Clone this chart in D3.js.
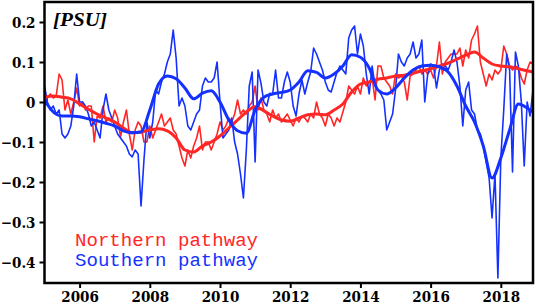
<!DOCTYPE html>
<html>
<head>
<meta charset="utf-8">
<script src="https://cdn.jsdelivr.net/npm/d3@7"></script>
<style>
  body { margin: 0; background: #fff; }
</style>
</head>
<body>
<div id="chart"></div>
<script>
  // monthly anomalies, Jan 2005 .. Dec 2018
  const startYear = 2005;
  const northRaw = [
    -0.01, 0.01, 0.02, 0.01, 0.015, 0.07, 0.055, -0.02, 0.005, -0.03, 0.0, 0.035,
    -0.01, 0.0, -0.02, -0.01, -0.01, -0.1, -0.035, -0.04, -0.01, -0.05, -0.04, -0.05,
    -0.02, -0.04, -0.087, -0.05, -0.02, -0.08, -0.12, -0.07, -0.05, -0.06, -0.1, -0.1,
    -0.06, -0.09, -0.07, -0.05, -0.03, -0.06, -0.05, -0.04, -0.07, -0.08, -0.11, -0.14,
    -0.16, -0.12, -0.14, -0.11, -0.09, -0.06, -0.12, -0.1, -0.1, -0.12, -0.1, -0.08,
    -0.05, -0.07, -0.06, -0.04, -0.05, -0.03, 0.005, -0.03, -0.02, -0.03, -0.01, 0.0,
    0.04, -0.02, 0.01, -0.02, -0.03, -0.05, -0.02, -0.04, -0.03, -0.05, -0.04, -0.03,
    -0.045, -0.06, -0.04, -0.05, -0.035, -0.04, -0.05, -0.03, -0.04, 0.0, -0.03, -0.04,
    -0.06, -0.03, -0.04, -0.06, -0.04, -0.05, -0.025, 0.0, 0.04, 0.03, 0.02, 0.04,
    0.02, 0.06, 0.04, 0.05, 0.06, 0.005, 0.09, 0.09, 0.06, 0.05, 0.04, 0.02,
    0.07, 0.06, 0.065, 0.05, 0.005, 0.065, 0.07, 0.08, 0.09, 0.07, 0.08, 0.07,
    0.08, 0.06, 0.09, 0.15, 0.07, 0.1, 0.11, 0.12, 0.12, 0.12, 0.135, 0.09,
    0.13, 0.11, 0.155, 0.17, 0.19, 0.1, 0.07, 0.04, 0.07, 0.055, 0.08, 0.07,
    0.08, 0.14, 0.12, 0.09, 0.08, 0.09, 0.085, 0.06, 0.045, 0.08, 0.1, 0.095
  ];
  const southRaw = [
    0.04, 0.0, -0.02, -0.01, -0.03, -0.02, -0.08, -0.09, -0.08, -0.06, -0.01, 0.07,
    0.0, 0.0, -0.01, -0.03, -0.06, -0.05, -0.07, -0.09, -0.02, 0.02, -0.02, -0.04,
    -0.06, -0.08, -0.09, -0.1, -0.11, -0.13, -0.137, -0.12, -0.13, -0.26, -0.145, -0.05,
    -0.09, -0.05, 0.03, 0.02, 0.05, 0.07, 0.1, 0.12, 0.18, 0.11, -0.01, 0.01,
    -0.01, -0.06, -0.07, -0.05, -0.03, -0.02, 0.04, 0.06, 0.05, 0.05, 0.06, 0.1,
    0.0, -0.09, -0.08, -0.07, -0.04, -0.1, -0.13, -0.18, -0.24, -0.12, 0.04, 0.075,
    -0.15, 0.08, 0.047, 0.0, -0.01, 0.022, 0.02, 0.08, 0.01, 0.01, 0.05, 0.075,
    0.05, -0.01, -0.035, 0.02, 0.055, 0.02, 0.05, 0.075, 0.135, 0.12, 0.1, 0.08,
    0.05, 0.03, 0.025, 0.05, 0.075, 0.09, 0.08, 0.07, 0.16, 0.18, 0.19, 0.12,
    0.17, 0.14, 0.07, 0.02, 0.09, 0.04, 0.03, 0.02, 0.005, -0.07, -0.05, -0.03,
    0.03, 0.12, 0.1, 0.09, 0.11, 0.12, 0.15, 0.11, 0.12, 0.155, 0.0, 0.07,
    0.095, 0.09, 0.035, 0.08, 0.095, 0.09, 0.08, 0.1, 0.13, 0.1, 0.04, -0.06,
    0.03, 0.05, -0.02, -0.03, -0.07, -0.08, -0.11, -0.15, -0.19, -0.29, -0.18, -0.44,
    -0.14, -0.02, 0.12, 0.08, -0.175, 0.125, 0.09, 0.0, -0.16, 0.0, -0.035, 0.03
  ];

  // running means, read at quarter-year steps
  const smoothYears = [
    2005.0, 2005.25, 2005.5, 2005.75, 2006.0, 2006.25, 2006.5, 2006.75,
    2007.0, 2007.25, 2007.5, 2007.75, 2008.0, 2008.25, 2008.5, 2008.75,
    2009.0, 2009.25, 2009.5, 2009.75, 2010.0, 2010.25, 2010.5, 2010.75,
    2011.0, 2011.25, 2011.5, 2011.75, 2012.0, 2012.25, 2012.5, 2012.75,
    2013.0, 2013.25, 2013.5, 2013.75, 2014.0, 2014.25, 2014.5, 2014.75,
    2015.0, 2015.25, 2015.5, 2015.75, 2016.0, 2016.25, 2016.5, 2016.75,
    2017.0, 2017.25, 2017.5, 2017.75, 2018.0, 2018.25, 2018.5, 2018.75, 2018.917
  ];
  const northSmooth = [
    0.012, 0.015, 0.012, 0.008, -0.005, -0.018, -0.03, -0.04,
    -0.05, -0.065, -0.077, -0.075, -0.07, -0.067, -0.072, -0.09,
    -0.12, -0.125, -0.11, -0.1, -0.085, -0.065, -0.045, -0.025,
    -0.012, -0.022, -0.035, -0.045, -0.048, -0.04, -0.032, -0.03,
    -0.032, -0.02, -0.005, 0.025, 0.045, 0.05, 0.057, 0.06,
    0.065, 0.067, 0.072, 0.078, 0.083, 0.09, 0.097, 0.107,
    0.117, 0.125, 0.11, 0.095, 0.09, 0.088, 0.083, 0.078, 0.075
  ];
  const southSmooth = [
    0.005, -0.025, -0.035, -0.035, -0.037, -0.042, -0.047, -0.053,
    -0.06, -0.072, -0.077, -0.075, -0.02, 0.045, 0.065, 0.058,
    0.035, 0.008, 0.022, 0.028, 0.0, -0.045, -0.072, -0.078,
    -0.02, 0.012, 0.02, 0.024, 0.03, 0.05, 0.078, 0.074,
    0.06, 0.07, 0.09, 0.118, 0.112, 0.085, 0.03, 0.02,
    0.035, 0.06, 0.08, 0.09, 0.092, 0.088, 0.075, 0.04,
    -0.01, -0.05, -0.11, -0.19, -0.14, -0.07, -0.005, -0.015, -0.025
  ];

  const yTicks = [-0.4, -0.3, -0.2, -0.1, 0, 0.1, 0.2];
  const xTicks = [2006, 2008, 2010, 2012, 2014, 2016, 2018];
  const legendLabels = ["Northern pathway", "Southern pathway"];

  const red = "#ff2626", blue = "#1531ff";
  const width = 536, height = 305;
  const box = { left: 44.5, right: 533, top: 2, bottom: 283 };

  const svg = d3.select("#chart").append("svg")
    .attr("width", width).attr("height", height);

  const x = d3.scaleLinear()
    .domain([startYear, startYear + (northRaw.length - 1) / 12])
    .range([box.left, box.right]);
  const y = d3.scaleLinear().domain([-0.4525, 0.25]).range([box.bottom, box.top]);

  svg.append("clipPath").attr("id", "clip")
    .append("rect").attr("x", box.left).attr("y", box.top)
    .attr("width", box.right - box.left).attr("height", box.bottom - box.top);

  const plot = svg.append("g").attr("clip-path", "url(#clip)");

  const rawLine = d3.line()
    .x((d, i) => x(startYear + i / 12))
    .y(d => y(d));
  const smoothLine = d3.line()
    .x((d, i) => x(smoothYears[i]))
    .y(d => y(d))
    .curve(d3.curveMonotoneX);

  const series = [
    { raw: northRaw, smooth: northSmooth, color: red },
    { raw: southRaw, smooth: southSmooth, color: blue }
  ];

  // thin monthly lines first, then the thick running means
  series.forEach(s => {
    plot.append("path").datum(s.raw)
      .attr("fill", "none").attr("stroke", s.color)
      .attr("stroke-width", 1.6).attr("stroke-linejoin", "round")
      .attr("d", rawLine);
  });
  series.forEach(s => {
    plot.append("path").datum(s.smooth)
      .attr("fill", "none").attr("stroke", s.color)
      .attr("stroke-width", 3).attr("stroke-linejoin", "round")
      .attr("d", smoothLine);
  });

  const tickFont = "'DejaVu Serif Condensed', 'DejaVu Serif', serif";

  const yAxis = svg.append("g")
    .attr("transform", `translate(${box.left},0)`)
    .call(d3.axisLeft(y).tickValues(yTicks).tickSize(5).tickPadding(4)
      .tickFormat(d => d === 0 ? "0" : d3.format(".1f")(d)));
  const xAxis = svg.append("g")
    .attr("transform", `translate(0,${box.bottom})`)
    .call(d3.axisBottom(x).tickValues(xTicks).tickSize(5).tickPadding(3)
      .tickFormat(d3.format("d")));

  [yAxis, xAxis].forEach(a => {
    a.select(".domain").remove();
    a.selectAll(".tick line").attr("stroke", "#000").attr("stroke-width", 2);
    a.selectAll(".tick text")
      .attr("fill", "#000")
      .style("font-family", tickFont)
      .style("font-stretch", "condensed")
      .style("font-weight", "bold")
      .style("font-size", "15px");
  });
  yAxis.selectAll(".tick text").attr("dy", "0.36em");

  svg.append("rect")
    .attr("x", box.left).attr("y", box.top)
    .attr("width", box.right - box.left).attr("height", box.bottom - box.top)
    .attr("fill", "none").attr("stroke", "#000").attr("stroke-width", 2.5);

  svg.append("text")
    .attr("x", 53).attr("y", 26)
    .attr("textLength", 54).attr("lengthAdjust", "spacingAndGlyphs")
    .style("font-family", "'Liberation Serif', 'Times New Roman', serif")
    .style("font-style", "italic").style("font-weight", "bold")
    .style("font-size", "19px")
    .text("[PSU]");

  svg.selectAll(".legend").data(legendLabels).enter()
    .append("text")
    .attr("class", "legend")
    .attr("x", 75).attr("y", (d, i) => 246 + i * 20)
    .attr("textLength", 183).attr("lengthAdjust", "spacingAndGlyphs")
    .attr("fill", (d, i) => series[i].color)
    .style("font-family", "'Liberation Mono', 'Courier New', monospace")
    .style("font-size", "18px")
    .text(d => d);
</script>
</body>
</html>
